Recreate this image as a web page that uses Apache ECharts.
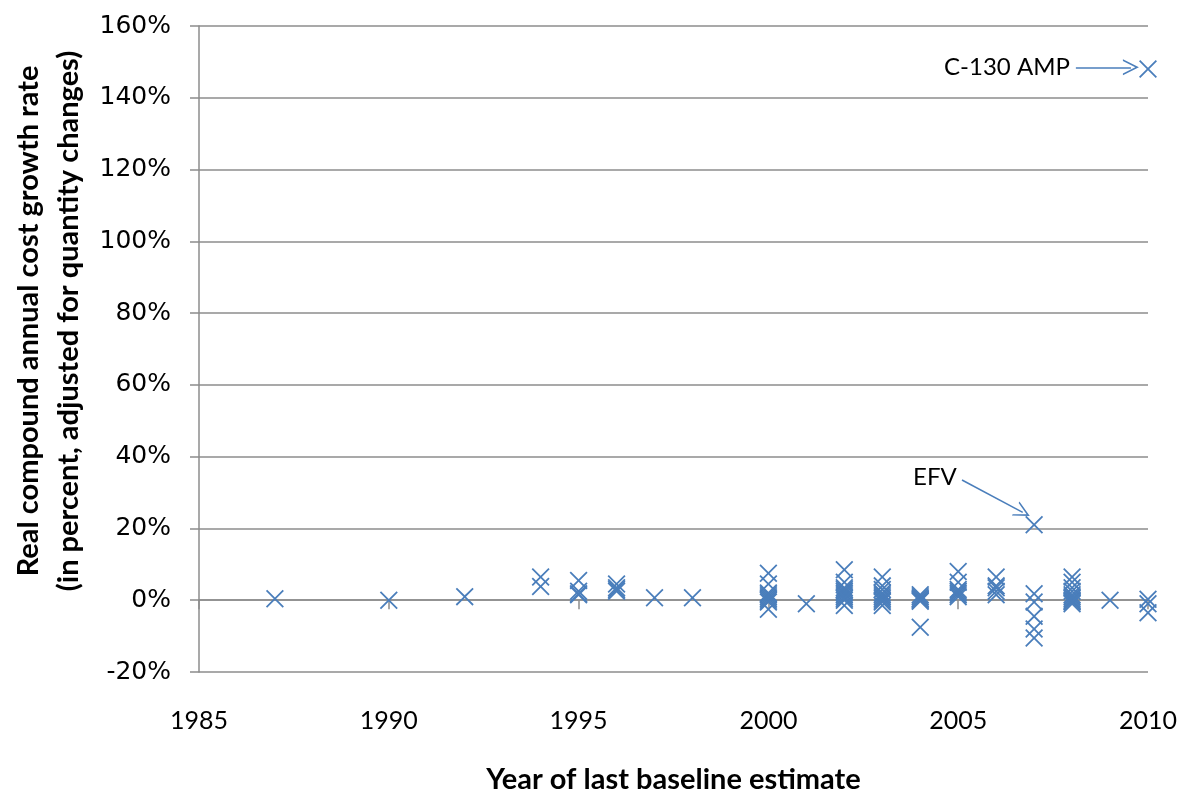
<!DOCTYPE html>
<html>
<head>
<meta charset="UTF-8">
<title>Cost growth</title>
<script src="https://cdn.jsdelivr.net/npm/echarts@6/dist/echarts.min.js"></script>
<style>
  * { margin: 0; padding: 0; }
  body { background: #fff; }
  #main { width: 1186px; height: 798px; }
</style>
</head>
<body>
<div id="main"></div>
<script>
  // data: one group of values per baseline year
  var baselineYears = [1987, 1990, 1992, 1994, 1995, 1996, 1997, 1998, 2000, 2001,
                       2002, 2003, 2004, 2005, 2006, 2007, 2008, 2009, 2010];
  var growthByYear = [
    [0.4],
    [0],
    [1.0],
    [6.5, 3.8],
    [5.5, 2.5, 1.8, 1.5],
    [4.5, 3.5, 3, 2.5],
    [0.7],
    [0.7],
    [7.5, 4.5, 2, 1.5, 1, 0.5, 0, -0.5, -2.5],
    [-1],
    [8.5, 5, 3.5, 3, 2.5, 2, 1.5, 1, 0.5, 0, -1.5],
    [6.5, 4, 3, 2, 1.5, 1, 0.5, 0, -0.5, -1.5],
    [1.5, 1, 0.5, 0.3, 0, -0.3, -7.5],
    [8, 5, 3, 2.5, 2, 1.5, 1],
    [6.5, 4, 3.5, 2.5, 1.5],
    [21, 1.8, -0.5, -4.5, -8, -10.5],
    [6.5, 5, 3.5, 2.5, 1.5, 1, 0.5, 0, -0.3, -0.5, -1],
    [0],
    [148, 0.3, -1, -3.5]
  ];

  // annotations: text, arrow start [year, %], arrow end [year, %]
  var noteText = ['C-130 AMP', 'EFV'];
  var noteFrom = [[2008.1, 148.5], [2005.1, 33.5]];
  var noteTo = [[2009.55, 148.5], [2006.7, 24.5]];

  var xTicks = { min: 1985, max: 2010, interval: 5 };
  var yTicks = { min: -20, max: 160, interval: 20 };

  var points = [];
  baselineYears.forEach(function(yr, i) {
    growthByYear[i].forEach(function(v) { points.push([yr, v]); });
  });

  var blue = '#4a7ebb';
  var crossSymbol = 'path://M0,7 L7,0 L50,43 L93,0 L100,7 L57,50 L100,93 L93,100 L50,57 L7,100 L0,93 L43,50 Z';
  var openArrow = 'path://M0,0 L12,22 L9.5,22 L0,5 L-9.5,22 L-12,22 Z';

  var notes = noteText.map(function(t, i) {
    return [
      { coord: noteFrom[i], label: { show: true, formatter: t } },
      { coord: noteTo[i] }
    ];
  });

  var myChart = echarts.init(document.getElementById('main'));
  var option = {
    backgroundColor: '#fff',
    animation: false,
    textStyle: { fontFamily: 'Lato' },
    grid: { left: 199, right: 38, top: 26, bottom: 126, containLabel: false, outerBoundsMode: 'none' },
    xAxis: [{
      type: 'value',
      min: xTicks.min, max: xTicks.max, interval: xTicks.interval,
      axisLine: { onZero: true, lineStyle: { color: '#8c8c8c', width: 1.5 } },
      axisTick: { show: true, length: 9, lineStyle: { color: '#8c8c8c', width: 1.5 } },
      axisLabel: { show: false },
      splitLine: { show: false }
    }, {
      type: 'value',
      position: 'bottom',
      min: xTicks.min, max: xTicks.max, interval: xTicks.interval,
      axisLine: { show: false, onZero: false },
      axisTick: { show: false },
      splitLine: { show: false },
      axisLabel: {
        margin: 36, fontSize: 25, color: '#000', fontFamily: 'Lato',
        formatter: function(v) { return String(v); }
      },
      name: 'Year of last baseline estimate',
      nameLocation: 'middle',
      nameGap: 93,
      nameTextStyle: { fontSize: 29, fontWeight: 'bold', color: '#000', fontFamily: 'Lato' }
    }],
    yAxis: {
      type: 'value',
      min: yTicks.min, max: yTicks.max, interval: yTicks.interval,
      axisLine: { show: true, onZero: false, lineStyle: { color: '#8c8c8c', width: 1.5 } },
      axisTick: { show: true, length: 9, lineStyle: { color: '#8c8c8c', width: 1.5 } },
      axisLabel: { formatter: '{value}%', margin: 28, fontSize: 25, color: '#000', fontFamily: 'DejaVu Sans' },
      splitLine: { show: true, lineStyle: { color: '#8c8c8c', width: 1.5 } },
      name: 'Real compound annual cost growth rate\n(in percent, adjusted for quantity changes)',
      nameLocation: 'middle',
      nameRotate: 90,
      nameGap: 108,
      nameTextStyle: {
        fontSize: 29, fontWeight: 'bold', color: '#000', lineHeight: 40, fontFamily: 'Lato',
        padding: [0, 0, 0, 56]
      }
    },
    series: [{
      type: 'scatter',
      xAxisIndex: 0,
      data: points,
      symbol: crossSymbol,
      symbolSize: 18,
      itemStyle: { color: blue, opacity: 1 },
      markLine: {
        silent: true,
        symbol: ['none', openArrow],
        symbolSize: 16,
        lineStyle: { color: blue, width: 1.5, type: 'solid' },
        label: { position: 'start', color: '#000', fontSize: 24, fontFamily: 'Lato', distance: 6 },
        data: notes
      }
    }]
  };
  myChart.setOption(option);
</script>
</body>
</html>
